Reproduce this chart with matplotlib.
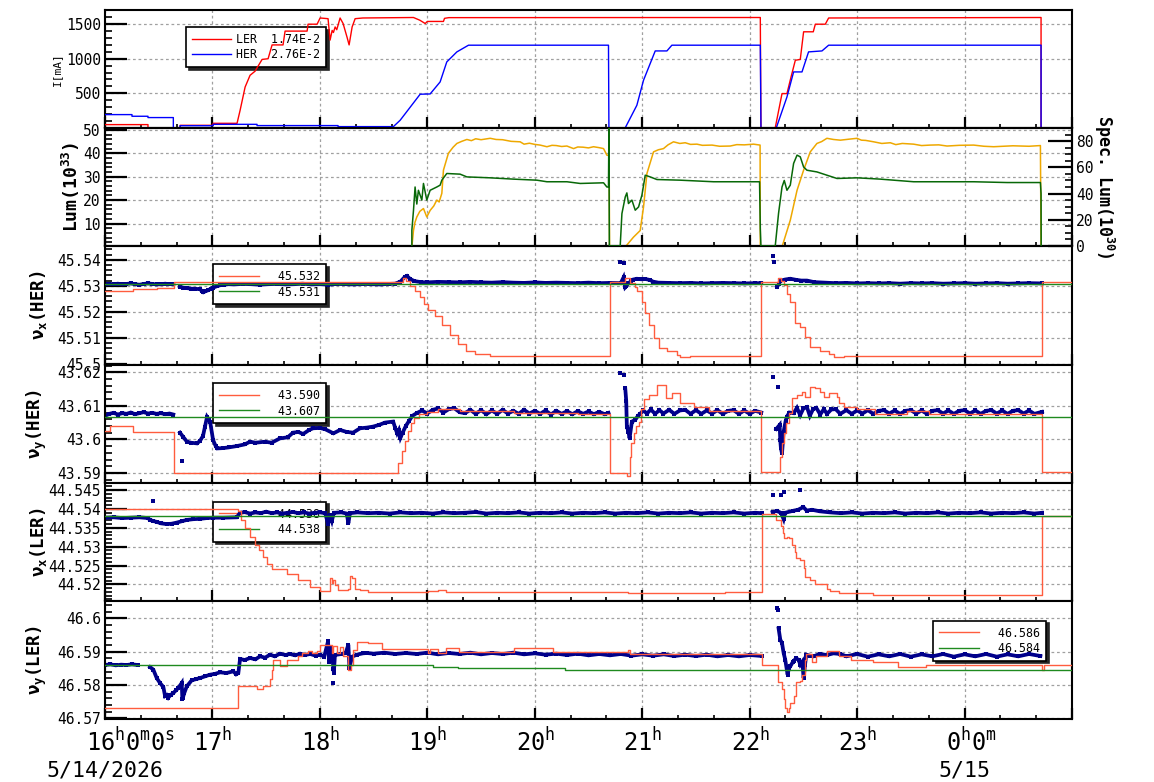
import numpy as np
import matplotlib
matplotlib.use("Agg")
import matplotlib.pyplot as plt
import matplotlib.transforms as mtrans
from matplotlib.ticker import MultipleLocator, FixedLocator, FuncFormatter

nan = np.nan

# ---------------- data (time in hours after 16:00 on 5/14/2026) ----------------
hour_ticks = [0, 1, 2, 3, 4, 5, 6, 7, 8]
hour_labels = ['16$^{h}$0$^{m}$0$^{s}$', '17$^{h}$', '18$^{h}$', '19$^{h}$', '20$^{h}$',
               '21$^{h}$', '22$^{h}$', '23$^{h}$', '0$^{h}$0$^{m}$']
date_labels = {0: '5/14/2026', 8: '5/15'}

# beam currents [mA]
ler_current = [(0.0, 46), (0.40, 46), (0.40, 0), (0.70, 0), (0.70, 36), (1.006, 36), (1.006, 65), (1.229, 65),
               (1.257, 250), (1.304, 590), (1.350, 760), (1.397, 820), (1.462, 990), (1.518, 1000), (1.555, 1200),
               (1.657, 1200), (1.676, 1400), (1.881, 1400), (1.890, 1500), (1.974, 1500), (2.002, 1590),
               (2.076, 1580), (2.095, 1270), (2.114, 1410), (2.126, 1380), (2.142, 1460), (2.157, 1420),
               (2.188, 1590), (2.216, 1510), (2.253, 1310), (2.272, 1200), (2.300, 1460), (2.328, 1580),
               (2.40, 1590), (2.871, 1597), (2.93, 1558), (2.98, 1510), (3.00, 1540), (3.15, 1540), (3.16, 1585),
               (3.20, 1595), (6.099, 1597), (6.105, 0), (6.238, 0), (6.301, 495), (6.347, 495), (6.385, 736),
               (6.425, 978), (6.471, 990), (6.502, 1390), (6.592, 1390), (6.611, 1500), (6.704, 1500),
               (6.735, 1590), (8.712, 1597), (8.712, 0), (8.908, 0)]
her_current = [(0.0, 191), (0.251, 191), (0.251, 167), (0.400, 167), (0.400, 148), (0.636, 148), (0.636, 0),
               (0.698, 0), (0.698, 30), (1.006, 30), (1.006, 50), (1.415, 50), (1.415, 32), (2.169, 32),
               (2.169, 17), (2.684, 17), (2.747, 109), (2.933, 486), (3.026, 490), (3.119, 664), (3.181, 954),
               (3.275, 1099), (3.383, 1196), (4.686, 1196), (4.690, 0), (4.842, 0), (4.950, 326), (5.012, 688),
               (5.121, 1113), (5.230, 1113), (5.276, 1196), (6.099, 1196), (6.105, 0), (6.248, 0), (6.347, 446),
               (6.409, 809), (6.487, 809), (6.548, 1099), (6.673, 1113), (6.735, 1196), (8.712, 1196),
               (8.712, 0), (8.908, 0)]
current_legend = ['LER  1.74E-2', 'HER  2.76E-2']

# luminosity (left axis, 1e33) and specific luminosity (right axis, 1e30)
luminosity = [(2.856, 0), (2.871, 7), (2.885, 10.5), (2.902, 12.8), (2.93, 15.2), (2.964, 16.4), (2.995, 12.8),
              (3.026, 15.6), (3.06, 17.5), (3.088, 20), (3.11, 19.2), (3.135, 22.9), (3.150, 32.8),
              (3.196, 40), (3.24, 42.6), (3.275, 44.2), (3.32, 45.1), (3.368, 45.9), (3.41, 45.4), (3.45, 46.2),
              (3.50, 45.8), (3.585, 46.4), (3.64, 45.9), (3.70, 45.8), (3.78, 45.1), (3.864, 44.9), (3.90, 43.9),
              (3.95, 44.3), (4.00, 43.8), (4.050, 43.5), (4.113, 42.8), (4.16, 43.4), (4.20, 43.3), (4.25, 42.9),
              (4.299, 43.1), (4.361, 42.0), (4.40, 42.7), (4.45, 42.6), (4.50, 42.3), (4.547, 42.8), (4.60, 42.4),
              (4.640, 42.0), (4.671, 39.2), (4.692, 39.0), (4.696, 0), (4.842, 0), (4.919, 4.2), (4.981, 7),
              (5.012, 17), (5.044, 31.4), (5.105, 40.6), (5.15, 41.5), (5.198, 42), (5.24, 43.6), (5.291, 44.9),
              (5.35, 44.2), (5.40, 44.5), (5.45, 43.8), (5.509, 43.9), (5.56, 43.4), (5.65, 43.5), (5.72, 43.0),
              (5.819, 43.1), (5.88, 43.7), (5.95, 43.6), (6.036, 43.9), (6.097, 43.5), (6.099, 0), (6.301, 0),
              (6.378, 11.4), (6.441, 24.2), (6.502, 32.8), (6.564, 40.6), (6.626, 44.2), (6.67, 45.0),
              (6.719, 46.4), (6.78, 45.9), (6.844, 45.6), (6.92, 46.0), (6.999, 46.4), (7.04, 45.6),
              (7.08, 45.5), (7.154, 44.9), (7.23, 44.2), (7.309, 44.5), (7.36, 43.7), (7.42, 44.2),
              (7.526, 43.9), (7.60, 43.3), (7.68, 43.5), (7.76, 43.6), (7.837, 43.1), (7.95, 43.4),
              (8.085, 43.5), (8.18, 43.0), (8.271, 42.8), (8.36, 43.0), (8.45, 43.2), (8.60, 43.0),
              (8.706, 43.3), (8.712, 0)]
spec_lum = [(2.856, 0), (2.856, 12), (2.871, 27), (2.886, 45), (2.902, 32), (2.917, 42.5), (2.949, 35),
            (2.964, 47.7), (2.995, 35), (3.026, 42.5), (3.088, 45), (3.119, 46.4), (3.135, 50.2), (3.181, 55.3),
            (3.305, 54.8), (3.368, 52.7), (3.585, 52), (3.802, 51), (4.020, 50.2), (4.113, 49), (4.299, 49),
            (4.423, 47.7), (4.640, 48.2), (4.671, 45), (4.686, 45), (4.690, 90), (4.694, 0), (4.795, 0),
            (4.811, 24.7), (4.842, 37.4), (4.857, 40.5), (4.872, 32.4), (4.904, 35), (4.935, 27.3),
            (4.966, 29.8), (4.997, 38.7), (5.028, 54), (5.074, 52.7), (5.137, 50.7), (5.354, 50.2),
            (5.664, 49), (5.975, 49), (6.092, 49), (6.099, 13.3), (6.105, 0), (6.238, 0), (6.269, 25),
            (6.301, 45), (6.322, 50), (6.347, 42.5), (6.378, 46.4), (6.409, 63), (6.441, 69.3), (6.471, 68),
            (6.502, 60.3), (6.533, 57.8), (6.626, 56.5), (6.719, 54), (6.813, 51.5), (6.999, 52), (7.216, 51),
            (7.526, 49), (7.775, 49), (8.085, 49), (8.396, 48.4), (8.706, 48.4), (8.712, 40), (8.713, 0)]

# ---- nu_x(HER) ----
nux_her_set = [(0, 45.5281), (0.264, 45.5288), (0.481, 45.5293), (0.645, 45.5314), (2.77, 45.5330),
               (2.80, 45.5318), (2.84, 45.5300), (2.886, 45.5280), (2.933, 45.5255), (2.97, 45.5230),
               (3.01, 45.5205), (3.07, 45.5185), (3.135, 45.5150), (3.21, 45.5110), (3.29, 45.5075),
               (3.36, 45.5050), (3.445, 45.5038), (3.585, 45.5030), (4.696, 45.5314), (4.842, 45.5329),
               (4.888, 45.5310), (4.930, 45.5295), (4.950, 45.5278), (4.997, 45.5239), (5.028, 45.5194),
               (5.059, 45.5149), (5.105, 45.5098), (5.152, 45.5062), (5.230, 45.5049), (5.323, 45.5034),
               (5.354, 45.5027), (5.447, 45.5030), (6.108, 45.5314), (6.260, 45.5329), (6.290, 45.5318),
               (6.316, 45.5304), (6.350, 45.5270), (6.378, 45.5239), (6.425, 45.5156), (6.471, 45.5143),
               (6.518, 45.5104), (6.564, 45.5066), (6.657, 45.5049), (6.735, 45.5036), (6.781, 45.5027),
               (6.875, 45.5030), (8.721, 45.5314), (9.0, 45.5314)]
nux_her_ref = [(0, 45.5306), (9.0, 45.5306)]
nux_her_meas = [(0.00, 45.5305), (0.04, 45.5307), (0.08, 45.5306), (0.12, 45.5308), (0.16, 45.5305),
                (0.20, 45.5307), (0.24, 45.5309), (0.28, 45.5306), (0.32, 45.5304), (0.36, 45.5307),
                (0.40, 45.5309), (0.44, 45.5307), (0.48, 45.5305), (0.52, 45.5306), (0.56, 45.5308),
                (0.60, 45.5306), (0.636, 45.5307), (0.66, nan),
                (0.698, 45.5297), (0.73, 45.5292), (0.761, 45.5291), (0.80, 45.5289), (0.84, 45.5288),
                (0.885, 45.5287), (0.90, 45.5280), (0.915, 45.5275), (0.935, 45.5279), (0.962, 45.5283),
                (0.985, 45.5289), (1.008, 45.5293), (1.04, 45.5298), (1.071, 45.5302), (1.11, 45.5304),
                (1.15, 45.5306), (1.20, 45.5305), (1.28, 45.5307), (1.36, 45.5306), (1.44, 45.5304),
                (1.52, 45.5306), (1.60, 45.5307), (1.68, 45.5305), (1.76, 45.5306), (1.84, 45.5308),
                (1.92, 45.5305), (2.00, 45.5306), (2.08, 45.5304), (2.16, 45.5307), (2.24, 45.5306),
                (2.32, 45.5305), (2.40, 45.5307), (2.48, 45.5306), (2.56, 45.5305), (2.64, 45.5307),
                (2.70, 45.5308), (2.75, 45.5316), (2.79, 45.5334), (2.81, 45.5338), (2.84, 45.5326),
                (2.88, 45.5318), (2.94, 45.5314), (3.00, 45.5313), (3.10, 45.5315), (3.20, 45.5314),
                (3.30, 45.5313), (3.40, 45.5315), (3.50, 45.5313), (3.60, 45.5312), (3.70, 45.5314),
                (3.80, 45.5312), (3.90, 45.5311), (4.00, 45.5313), (4.10, 45.5311), (4.20, 45.5312),
                (4.30, 45.5311), (4.40, 45.5310), (4.50, 45.5312), (4.60, 45.5310), (4.70, 45.5311),
                (4.80, 45.5310), (4.826, 45.5332), (4.842, 45.5294), (4.851, 45.5298), (4.87, 45.5310),
                (4.90, 45.5318), (4.916, 45.5324), (4.95, 45.5327), (4.99, 45.5325), (5.03, 45.5326),
                (5.074, 45.5322), (5.10, 45.5316), (5.15, 45.5312), (5.25, 45.5311), (5.35, 45.5310),
                (5.45, 45.5311), (5.55, 45.5309), (5.65, 45.5310), (5.75, 45.5311), (5.85, 45.5310),
                (5.95, 45.5309), (6.05, 45.5310), (6.108, 45.5310), (6.15, nan),
                (6.254, 45.5297), (6.27, 45.5305), (6.285, 45.5319), (6.33, 45.5324), (6.378, 45.5327),
                (6.43, 45.5323), (6.48, 45.5320), (6.533, 45.5320), (6.60, 45.5314), (6.70, 45.5312),
                (6.80, 45.5310), (6.90, 45.5311), (7.00, 45.5309), (7.10, 45.5310), (7.20, 45.5309),
                (7.30, 45.5310), (7.40, 45.5308), (7.50, 45.5310), (7.60, 45.5309), (7.70, 45.5310),
                (7.80, 45.5308), (7.90, 45.5309), (8.00, 45.5310), (8.10, 45.5308), (8.20, 45.5309),
                (8.30, 45.5310), (8.40, 45.5308), (8.50, 45.5309), (8.60, 45.5310), (8.721, 45.5309)]
nux_her_outliers = [(4.795, 45.5390), (4.826, 45.5389), (6.213, 45.5416), (6.223, 45.5390)]
nux_her_legend = ['  45.532', '  45.531']

# ---- nu_y(HER) ----
nuy_her_set = [(0, 43.6026), (0.047, 43.6040), (0.264, 43.6023), (0.645, 43.5901), (2.73, 43.5930),
               (2.76, 43.5965), (2.79, 43.5995), (2.82, 43.6025), (2.85, 43.6050), (2.88, 43.6065),
               (2.92, 43.6075), (3.00, 43.6082), (3.10, 43.6090), (3.30, 43.6085), (3.81, 43.6080),
               (4.40, 43.6077), (4.696, 43.5901), (4.862, 43.5890), (4.885, 43.5948), (4.900, 43.5990),
               (4.919, 43.6018), (4.940, 43.6040), (4.966, 43.6053), (4.990, 43.6090), (5.012, 43.6119),
               (5.059, 43.6132), (5.137, 43.6162), (5.220, 43.6122), (5.276, 43.6137), (5.354, 43.6107),
               (5.478, 43.6097), (5.617, 43.6085), (6.108, 43.5903), (6.282, 43.5948), (6.300, 43.5990),
               (6.316, 43.6018), (6.340, 43.6050), (6.362, 43.6078), (6.394, 43.6122), (6.441, 43.6132),
               (6.487, 43.6142), (6.518, 43.6127), (6.564, 43.6157), (6.611, 43.6152), (6.657, 43.6142),
               (6.688, 43.6127), (6.735, 43.6137), (6.813, 43.6127), (6.828, 43.6107), (6.875, 43.6097),
               (6.999, 43.6090), (7.170, 43.6075), (7.465, 43.6084), (7.666, 43.6076), (8.721, 43.5903),
               (9.0, 43.5903)]
nuy_her_ref = [(0, 43.6066), (9.0, 43.6066)]
nuy_her_meas = [(0.00, 43.6070), (0.04, 43.6076), (0.08, 43.6079), (0.12, 43.6074), (0.16, 43.6078),
                (0.20, 43.6076), (0.24, 43.6080), (0.28, 43.6075), (0.32, 43.6078), (0.36, 43.6081),
                (0.40, 43.6077), (0.44, 43.6079), (0.48, 43.6076), (0.52, 43.6078), (0.56, 43.6075),
                (0.60, 43.6077), (0.636, 43.6074), (0.66, nan),
                (0.698, 43.6020), (0.726, 43.6008), (0.763, 43.5993), (0.80, 43.5990), (0.857, 43.5988),
                (0.885, 43.5996), (0.912, 43.6010), (0.931, 43.6038), (0.950, 43.6067), (0.965, 43.6060),
                (0.978, 43.6053), (1.006, 43.5998), (1.030, 43.5980), (1.043, 43.5973), (1.099, 43.5974),
                (1.15, 43.5976), (1.226, 43.5980), (1.30, 43.5985), (1.35, 43.5993), (1.40, 43.5990),
                (1.49, 43.5993), (1.55, 43.5990), (1.629, 43.6003), (1.70, 43.6006), (1.75, 43.6020),
                (1.80, 43.6022), (1.844, 43.6016), (1.90, 43.6028), (1.937, 43.6033), (2.00, 43.6034),
                (2.05, 43.6030), (2.126, 43.6018), (2.188, 43.6028), (2.25, 43.6022), (2.309, 43.6020),
                (2.374, 43.6033), (2.437, 43.6035), (2.495, 43.6038), (2.55, 43.6043), (2.607, 43.6050),
                (2.682, 43.6053), (2.70, 43.6035), (2.719, 43.6018), (2.735, 43.6028), (2.75, 43.6005),
                (2.77, 43.6020), (2.80, 43.6040), (2.83, 43.6055), (2.86, 43.6070), (2.90, 43.6078),
                (2.95, 43.6086), (3.00, 43.6077), (3.05, 43.6088), (3.10, 43.6092), (3.15, 43.6080),
                (3.20, 43.6090), (3.25, 43.6093), (3.30, 43.6081), (3.35, 43.6078), (3.40, 43.6088),
                (3.45, 43.6076), (3.50, 43.6087), (3.55, 43.6075), (3.60, 43.6086), (3.65, 43.6076),
                (3.70, 43.6088), (3.75, 43.6077), (3.80, 43.6085), (3.85, 43.6076), (3.90, 43.6088),
                (3.95, 43.6077), (4.00, 43.6085), (4.05, 43.6076), (4.10, 43.6086), (4.15, 43.6074),
                (4.20, 43.6085), (4.25, 43.6076), (4.30, 43.6084), (4.35, 43.6075), (4.40, 43.6084),
                (4.45, 43.6076), (4.50, 43.6083), (4.55, 43.6075), (4.60, 43.6082), (4.65, 43.6075),
                (4.686, 43.6079), (4.72, nan),
                (4.842, 43.6152), (4.851, 43.6115), (4.857, 43.6038), (4.872, 43.6023), (4.882, 43.6003),
                (4.904, 43.6053), (4.935, 43.6058), (4.96, 43.6070), (4.981, 43.6076), (5.01, 43.6086),
                (5.044, 43.6077), (5.08, 43.6089), (5.12, 43.6076), (5.16, 43.6087), (5.198, 43.6077),
                (5.25, 43.6088), (5.30, 43.6076), (5.35, 43.6086), (5.40, 43.6088), (5.45, 43.6076),
                (5.50, 43.6087), (5.55, 43.6076), (5.60, 43.6086), (5.65, 43.6077), (5.70, 43.6087),
                (5.75, 43.6076), (5.80, 43.6085), (5.85, 43.6087), (5.90, 43.6076), (5.95, 43.6086),
                (6.00, 43.6076), (6.05, 43.6085), (6.108, 43.6080), (6.15, nan),
                (6.248, 43.6031), (6.279, 43.6043), (6.285, 43.5997), (6.291, 43.5973), (6.301, 43.5958),
                (6.316, 43.6023), (6.335, 43.6055), (6.347, 43.6068), (6.37, 43.6080), (6.409, 43.6078),
                (6.44, 43.6094), (6.47, 43.6072), (6.50, 43.6092), (6.533, 43.6096), (6.56, 43.6070),
                (6.59, 43.6090), (6.62, 43.6094), (6.657, 43.6074), (6.69, 43.6090), (6.72, 43.6076),
                (6.76, 43.6089), (6.80, 43.6090), (6.844, 43.6076), (6.90, 43.6087), (6.95, 43.6076),
                (7.00, 43.6086), (7.05, 43.6077), (7.10, 43.6087), (7.15, 43.6076), (7.20, 43.6085),
                (7.25, 43.6087), (7.30, 43.6077), (7.35, 43.6086), (7.40, 43.6076), (7.45, 43.6085),
                (7.50, 43.6087), (7.55, 43.6077), (7.60, 43.6086), (7.65, 43.6076), (7.70, 43.6085),
                (7.75, 43.6087), (7.80, 43.6077), (7.85, 43.6086), (7.90, 43.6076), (7.95, 43.6085),
                (8.00, 43.6087), (8.05, 43.6077), (8.10, 43.6086), (8.15, 43.6076), (8.20, 43.6085),
                (8.25, 43.6087), (8.30, 43.6077), (8.35, 43.6086), (8.40, 43.6076), (8.45, 43.6085),
                (8.50, 43.6087), (8.55, 43.6077), (8.60, 43.6086), (8.65, 43.6076), (8.721, 43.6082)]
nuy_her_outliers = [(0.714, 43.5935), (4.795, 43.6198), (4.826, 43.6191), (6.213, 43.6186), (6.260, 43.6157)]
nuy_her_legend = ['  43.590', '  43.607']

# ---- nu_x(LER) ----
nux_ler_set = [(0, 44.5400), (1.241, 44.5394), (1.27, 44.5370), (1.304, 44.5349), (1.350, 44.5327),
               (1.397, 44.5305), (1.43, 44.5290), (1.474, 44.5272), (1.51, 44.5255), (1.552, 44.5240),
               (1.692, 44.5227), (1.800, 44.5213), (1.909, 44.5194), (2.002, 44.5182), (2.095, 44.5216),
               (2.111, 44.5203), (2.126, 44.5211), (2.142, 44.5198), (2.172, 44.5185), (2.265, 44.5189),
               (2.281, 44.5223), (2.297, 44.5216), (2.328, 44.5189), (2.374, 44.5185), (2.452, 44.5179),
               (3.010, 44.5183), (3.103, 44.5185), (3.172, 44.5179), (4.872, 44.5176), (5.773, 44.5179),
               (6.114, 44.5387), (6.248, 44.5371), (6.291, 44.5354), (6.310, 44.5336), (6.316, 44.5323),
               (6.347, 44.5327), (6.362, 44.5323), (6.394, 44.5305), (6.425, 44.5287), (6.434, 44.5269),
               (6.471, 44.5265), (6.502, 44.5243), (6.518, 44.5220), (6.564, 44.5213), (6.611, 44.5200),
               (6.719, 44.5189), (6.750, 44.5183), (6.828, 44.5176), (7.148, 44.5173), (8.721, 44.5382),
               (9.0, 44.5382)]
nux_ler_ref = [(0, 44.5382), (9.0, 44.5382)]
nux_ler_meas = [(0.00, 44.5377), (0.08, 44.5378), (0.16, 44.5376), (0.24, 44.5377), (0.32, 44.5378),
                (0.40, 44.5376), (0.419, 44.5371), (0.45, 44.5368), (0.481, 44.5366), (0.52, 44.5362),
                (0.574, 44.5360), (0.62, 44.5361), (0.668, 44.5364), (0.72, 44.5368), (0.761, 44.5371),
                (0.82, 44.5373), (0.885, 44.5374), (0.95, 44.5376), (1.006, 44.5377), (1.10, 44.5377),
                (1.226, 44.5378), (1.257, 44.5390), (1.30, 44.5392), (1.35, 44.5388), (1.40, 44.5391),
                (1.45, 44.5389), (1.50, 44.5393), (1.55, 44.5389), (1.60, 44.5391), (1.65, 44.5388),
                (1.70, 44.5390), (1.75, 44.5392), (1.80, 44.5389), (1.85, 44.5391), (1.90, 44.5388),
                (1.95, 44.5390), (2.00, 44.5391), (2.05, 44.5389), (2.076, 44.5360), (2.09, 44.5385),
                (2.111, 44.5368), (2.13, 44.5390), (2.20, 44.5391), (2.25, 44.5388), (2.265, 44.5362),
                (2.28, 44.5389), (2.35, 44.5391), (2.45, 44.5389), (2.55, 44.5390), (2.65, 44.5388),
                (2.75, 44.5391), (2.85, 44.5389), (2.95, 44.5390), (3.05, 44.5388), (3.15, 44.5391),
                (3.25, 44.5389), (3.35, 44.5390), (3.45, 44.5392), (3.55, 44.5388), (3.65, 44.5390),
                (3.75, 44.5389), (3.85, 44.5391), (3.95, 44.5388), (4.05, 44.5390), (4.15, 44.5389),
                (4.25, 44.5391), (4.35, 44.5388), (4.45, 44.5390), (4.55, 44.5389), (4.65, 44.5391),
                (4.75, 44.5388), (4.85, 44.5390), (4.95, 44.5389), (5.05, 44.5391), (5.15, 44.5388),
                (5.25, 44.5390), (5.35, 44.5389), (5.45, 44.5391), (5.55, 44.5388), (5.65, 44.5390),
                (5.75, 44.5389), (5.85, 44.5391), (5.95, 44.5388), (6.05, 44.5390), (6.114, 44.5389),
                (6.16, nan),
                (6.213, 44.5392), (6.25, 44.5395), (6.291, 44.5390), (6.316, 44.5373), (6.33, 44.5390),
                (6.40, 44.5395), (6.45, 44.5398), (6.50, 44.5405), (6.53, 44.5396), (6.58, 44.5398),
                (6.65, 44.5394), (6.75, 44.5391), (6.85, 44.5389), (6.95, 44.5391), (7.05, 44.5388),
                (7.15, 44.5390), (7.25, 44.5389), (7.35, 44.5391), (7.45, 44.5388), (7.55, 44.5390),
                (7.65, 44.5389), (7.75, 44.5391), (7.85, 44.5388), (7.95, 44.5390), (8.05, 44.5389),
                (8.15, 44.5391), (8.25, 44.5388), (8.35, 44.5390), (8.45, 44.5389), (8.55, 44.5391),
                (8.65, 44.5388), (8.721, 44.5390)]
nux_ler_outliers = [(0.450, 44.5422), (6.213, 44.5438), (6.291, 44.5438), (6.316, 44.5445), (6.471, 44.5451)]
nux_ler_legend = ['  44.538', '  44.538']

# ---- nu_y(LER) ----
nuy_ler_set = [(0, 46.5732), (1.241, 46.5796), (1.412, 46.5789), (1.474, 46.5796), (1.536, 46.5818),
               (1.552, 46.5846), (1.567, 46.5876), (1.629, 46.5858), (1.692, 46.5874), (1.800, 46.5888),
               (1.831, 46.5896), (1.893, 46.5901), (1.925, 46.5896), (1.971, 46.5901), (2.002, 46.5921),
               (2.111, 46.5896), (2.126, 46.5916), (2.157, 46.5896), (2.188, 46.5914), (2.219, 46.5887),
               (2.265, 46.5846), (2.288, 46.5861), (2.312, 46.5906), (2.344, 46.5928), (2.452, 46.5926),
               (2.576, 46.5908), (3.010, 46.5896), (3.026, 46.5908), (3.103, 46.5896), (3.172, 46.5911),
               (3.296, 46.5899), (3.811, 46.5911), (4.165, 46.5899), (4.872, 46.5906), (4.890, 46.5894),
               (6.114, 46.5861), (6.260, 46.5808), (6.301, 46.5787), (6.316, 46.5757), (6.331, 46.5732),
               (6.347, 46.5719), (6.362, 46.5732), (6.378, 46.5747), (6.409, 46.5767), (6.434, 46.5808),
               (6.471, 46.5811), (6.487, 46.5831), (6.511, 46.5876), (6.527, 46.5894), (6.580, 46.5868),
               (6.620, 46.5886), (6.719, 46.5901), (6.828, 46.5886), (6.943, 46.5876), (7.144, 46.5868),
               (7.381, 46.5854), (7.641, 46.5861), (8.721, 46.5846), (8.74, 46.5860), (9.0, 46.5860)]
nuy_ler_ref = [(0, 46.5860), (3.057, 46.5854), (3.290, 46.5850), (4.283, 46.5844), (9.0, 46.5844)]
nuy_ler_meas = [(0.00, 46.5860), (0.05, 46.5862), (0.10, 46.5859), (0.15, 46.5861), (0.20, 46.5860),
                (0.25, 46.5862), (0.304, 46.5860), (0.36, nan),
                (0.419, 46.5854), (0.450, 46.5846), (0.481, 46.5821), (0.512, 46.5806), (0.543, 46.5794),
                (0.559, 46.5767), (0.574, 46.5770), (0.589, 46.5762), (0.61, 46.5770), (0.636, 46.5776),
                (0.66, 46.5784), (0.682, 46.5791), (0.714, 46.5806), (0.720, 46.5757), (0.725, 46.5762),
                (0.738, 46.5776), (0.761, 46.5796), (0.807, 46.5814), (0.85, 46.5818), (0.885, 46.5821),
                (0.93, 46.5826), (0.978, 46.5831), (1.02, 46.5833), (1.071, 46.5838), (1.13, 46.5836),
                (1.195, 46.5841), (1.22, 46.5832), (1.241, 46.5836), (1.257, 46.5878), (1.30, 46.5875),
                (1.350, 46.5881), (1.40, 46.5877), (1.443, 46.5886), (1.49, 46.5882), (1.536, 46.5891),
                (1.58, 46.5886), (1.629, 46.5894), (1.68, 46.5890), (1.72, 46.5893), (1.77, 46.5889),
                (1.816, 46.5894), (1.86, 46.5890), (1.91, 46.5893), (1.96, 46.5888), (2.002, 46.5891),
                (2.04, 46.5885), (2.076, 46.5931), (2.085, 46.5870), (2.095, 46.5910), (2.111, 46.5905),
                (2.126, 46.5848), (2.13, 46.5837), (2.14, 46.5890), (2.20, 46.5893), (2.24, 46.5896),
                (2.265, 46.5921), (2.275, 46.5850), (2.281, 46.5860), (2.30, 46.5885), (2.344, 46.5891),
                (2.40, 46.5895), (2.437, 46.5896), (2.50, 46.5894), (2.6, 46.5897), (2.7, 46.5893),
                (2.8, 46.5896), (2.9, 46.5893), (3.0, 46.5897), (3.1, 46.5892), (3.2, 46.5896),
                (3.3, 46.5893), (3.4, 46.5897), (3.5, 46.5892), (3.6, 46.5896), (3.7, 46.5893),
                (3.8, 46.5897), (3.9, 46.5892), (4.0, 46.5895), (4.1, 46.5891), (4.2, 46.5894),
                (4.3, 46.5890), (4.4, 46.5894), (4.5, 46.5889), (4.6, 46.5893), (4.7, 46.5889),
                (4.8, 46.5893), (4.9, 46.5888), (5.0, 46.5892), (5.1, 46.5888), (5.2, 46.5892),
                (5.3, 46.5887), (5.4, 46.5891), (5.5, 46.5887), (5.6, 46.5891), (5.7, 46.5886),
                (5.8, 46.5890), (5.9, 46.5886), (6.0, 46.5890), (6.114, 46.5887), (6.18, nan),
                (6.269, 46.5970), (6.285, 46.5936), (6.301, 46.5926), (6.316, 46.5896), (6.331, 46.5876),
                (6.353, 46.5831), (6.365, 46.5850), (6.378, 46.5856), (6.40, 46.5868), (6.409, 46.5871),
                (6.43, 46.5880), (6.455, 46.5876), (6.471, 46.5861), (6.49, 46.5870), (6.502, 46.5821),
                (6.515, 46.5860), (6.527, 46.5891), (6.56, 46.5888), (6.595, 46.5886), (6.65, 46.5893),
                (6.719, 46.5890), (6.78, 46.5895), (6.844, 46.5893), (6.9, 46.5886), (7.0, 46.5893),
                (7.1, 46.5885), (7.2, 46.5892), (7.3, 46.5886), (7.4, 46.5893), (7.5, 46.5885),
                (7.6, 46.5892), (7.7, 46.5886), (7.8, 46.5893), (7.9, 46.5885), (8.0, 46.5892),
                (8.1, 46.5886), (8.2, 46.5893), (8.3, 46.5885), (8.4, 46.5892), (8.5, 46.5886),
                (8.6, 46.5893), (8.706, 46.5887)]
nuy_ler_outliers = [(2.12, 46.5806), (6.254, 46.6031), (6.260, 46.6025)]
nuy_ler_legend = ['  46.586', '  46.584']

# ---------------- styling ----------------
plt.rcParams['font.family'] = ['DejaVu Sans Mono']
plt.rcParams['mathtext.fontset'] = 'custom'
plt.rcParams['mathtext.rm'] = 'DejaVu Sans Mono'
plt.rcParams['mathtext.it'] = 'DejaVu Sans Mono:italic'
plt.rcParams['mathtext.bf'] = 'DejaVu Sans Mono:bold'
plt.rcParams['mathtext.default'] = 'regular'

C_LER = '#ff0000'
C_HER = '#0000ff'
C_LUM = '#eea800'
C_SPEC = '#086808'
C_SET = '#ff5c3e'
C_REF = '#1f8a1f'
C_MEAS = '#00008b'
GRID = '#a0a0a0'

W, H = 1154, 782
fig = plt.figure(figsize=(W / 100, H / 100), dpi=100)
left_px, right_px = 105, 1072
edges = [9.7, 128, 246, 364.5, 483, 601, 719]
axes = []
for i in range(6):
    y0 = 1 - edges[i + 1] / H
    h = (edges[i + 1] - edges[i]) / H
    ax = fig.add_axes([left_px / W, y0, (right_px - left_px) / W, h])
    axes.append(ax)


def split(pts):
    return [p[0] for p in pts], [p[1] for p in pts]


fmt = FuncFormatter(lambda v, p: f'{round(v, 4):g}')

for ax in axes:
    ax.set_xlim(0, 9.0)
    ax.xaxis.set_major_locator(MultipleLocator(1))
    ax.xaxis.set_minor_locator(MultipleLocator(1 / 3))
    ax.tick_params(axis='x', which='both', direction='in', bottom=True, top=False, labelbottom=False)
    ax.tick_params(axis='x', which='major', length=8, width=1.6)
    ax.tick_params(axis='x', which='minor', length=3.2, width=1.2)
    ax.tick_params(axis='y', which='both', direction='in', left=True, right=False, labelsize=10.5, pad=3)
    ax.tick_params(axis='y', which='major', length=16, width=1.6)
    ax.tick_params(axis='y', which='minor', length=5, width=1.2)
    ax.grid(True, which='major', color=GRID, ls=(0, (2.2, 2.2)), lw=0.9)
    for s in ax.spines.values():
        s.set_linewidth(1.5)
    ax.yaxis.set_major_formatter(fmt)


def add_legend(ax, handles, labels, x, y):
    leg = ax.legend(handles, labels, loc='upper left', bbox_to_anchor=(x, y), borderaxespad=0,
                    fontsize=8.4, handlelength=3.4, handletextpad=0.45, borderpad=0.5, labelspacing=0.2,
                    frameon=True, fancybox=False, framealpha=1,
                    shadow={'color': '0.15', 'alpha': 1.0})
    leg.get_frame().set_edgecolor('black')
    leg.get_frame().set_linewidth(1.2)
    leg.set_zorder(1.8)
    return leg


# ---- panel 1: currents ----
ax = axes[0]
t, v = split(ler_current)
l_ler, = ax.plot(t, v, color=C_LER, lw=1.0, zorder=3)
t, v = split(her_current)
l_her, = ax.plot(t, v, color=C_HER, lw=1.0, zorder=3)
ax.set_ylim(-3, 1710)
ax.yaxis.set_major_locator(FixedLocator([500, 1000, 1500]))
ax.yaxis.set_minor_locator(MultipleLocator(100))
ax.set_ylabel('I[mA]', fontsize=8)
ax.yaxis.set_label_coords(-0.044, 0.5)
add_legend(ax, [l_ler, l_her], current_legend, 0.0835, 0.851)

# ---- panel 2: luminosity ----
ax = axes[1]
t, v = split(luminosity)
ax.plot(t, v, color=C_LUM, lw=1.1, zorder=3)
ax.set_ylim(0.4, 50.8)
ax.yaxis.set_major_locator(MultipleLocator(10))
ax.yaxis.set_minor_locator(MultipleLocator(2))
ax.set_ylabel('Lum(10$^{33}$)', fontsize=13, fontweight='bold')
ax.yaxis.set_label_coords(-0.024, 0.5)
ax2 = ax.twinx()
t, v = split(spec_lum)
ax2.plot(t, v, color=C_SPEC, lw=1.1, zorder=3)
ax2.set_ylim(0, 90)
ax2.set_xlim(0, 9.0)
ax2.yaxis.set_major_locator(MultipleLocator(20))
ax2.yaxis.set_minor_locator(MultipleLocator(5))
ax2.yaxis.set_major_formatter(fmt)
ax2.tick_params(axis='y', which='both', direction='in', right=True, left=False, labelsize=10.5, pad=3)
ax2.tick_params(axis='y', which='major', length=17, width=1.6)
ax2.tick_params(axis='y', which='minor', length=5, width=1.2)
for s in ax2.spines.values():
    s.set_linewidth(1.5)
ax2.set_ylabel('Spec. Lum(10$^{30}$)', fontsize=12, fontweight='bold', rotation=-90, va='bottom')
ax2.yaxis.set_label_coords(1.021, 0.5)

# ---- tune panels ----
tune_panels = [
    (axes[2], nux_her_set, nux_her_ref, nux_her_meas, nux_her_outliers, nux_her_legend,
     (45.4997, 45.5453), 0.01, 0.002, 'ν$_{x}$(HER)', (0.112, 0.845)),
    (axes[3], nuy_her_set, nuy_her_ref, nuy_her_meas, nuy_her_outliers, nuy_her_legend,
     (43.587, 43.6223), 0.01, 0.002, 'ν$_{y}$(HER)', (0.112, 0.841)),
    (axes[4], nux_ler_set, nux_ler_ref, nux_ler_meas, nux_ler_outliers, nux_ler_legend,
     (44.5156, 44.5469), 0.005, 0.001, 'ν$_{x}$(LER)', (0.112, 0.8415)),
    (axes[5], nuy_ler_set, nuy_ler_ref, nuy_ler_meas, nuy_ler_outliers, nuy_ler_legend,
     (46.5698, 46.6052), 0.01, 0.002, 'ν$_{y}$(LER)', (0.8566, 0.833)),
]
for (ax, s_set, s_ref, s_meas, s_out, labels, ylim, maj, mnr, ylab, lpos) in tune_panels:
    t, v = split(s_meas)
    ax.plot(t, v, color=C_MEAS, lw=2.7, marker='s', ms=2.6, mew=0, zorder=2.2,
            solid_joinstyle='miter')
    t, v = split(s_out)
    ax.plot(t, v, ls='none', color=C_MEAS, marker='s', ms=2.8, mew=0, zorder=2.2)
    t, v = split(s_set)
    l_set, = ax.plot(t, v, color=C_SET, lw=1.0, drawstyle='steps-post', zorder=3)
    t, v = split(s_ref)
    l_ref, = ax.plot(t, v, color=C_REF, lw=1.0, drawstyle='steps-post', zorder=3)
    ax.set_ylim(*ylim)
    ax.yaxis.set_major_locator(MultipleLocator(maj))
    ax.yaxis.set_minor_locator(MultipleLocator(mnr))
    ax.set_ylabel(ylab, fontsize=12.5, fontweight='bold')
    ax.yaxis.set_label_coords(-0.058, 0.5)
    add_legend(ax, [l_set, l_ref], labels, *lpos)

# ---- time axis labels ----
axb = axes[5]
trans = mtrans.blended_transform_factory(axb.transData, fig.transFigure)
off = mtrans.ScaledTranslation(-19 / 100, 0, fig.dpi_scale_trans)
for hx, lab in zip(hour_ticks, hour_labels):
    fig.text(hx, 1 - 751 / H, lab, transform=trans + off, ha='left', va='baseline', fontsize=17)
for hx, lab in date_labels.items():
    fig.text(hx, 1 - 776 / H, lab, transform=trans, ha='center', va='baseline', fontsize=15.5)

fig.savefig('out.png', dpi=100)
